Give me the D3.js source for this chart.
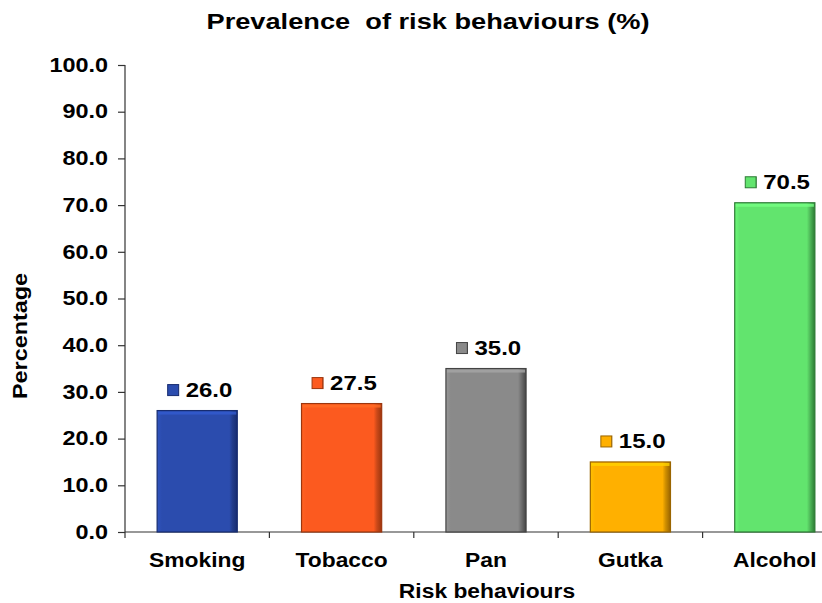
<!DOCTYPE html>
<html>
<head>
<meta charset="utf-8">
<script src="https://cdn.jsdelivr.net/npm/d3@7"></script>
<style>
  html, body { margin: 0; padding: 0; background: #fff; }
  svg { display: block; font-family: Arial, "Liberation Sans", sans-serif; }
  text { font-weight: bold; fill: #000; white-space: pre; }
</style>
</head>
<body>
<svg id="chart" width="822" height="603"></svg>
<script>
// Prevalence of risk behaviours (%)
const categories = ["Smoking", "Tobacco", "Pan", "Gutka", "Alcohol"];
const values = [26.0, 27.5, 35.0, 15.0, 70.5];
const barColors = ["#2b4cae", "#fc5a1f", "#8a8a8a", "#ffb000", "#62e46e"];
const edgeColors = ["#172c70", "#9c360e", "#444444", "#9a6500", "#2c7a34"];
const yTicks = [0, 10, 20, 30, 40, 50, 60, 70, 80, 90, 100];

const svg = d3.select("#chart");
const plotLeft = 125, plotRight = 847, plotTop = 65, plotBottom = 532;

const x = d3.scaleBand().domain(categories).range([plotLeft, plotRight])
  .paddingInner(0.445).paddingOuter(0.2225);
const y = d3.scaleLinear().domain([0, 100]).range([plotBottom, plotTop]);

// widen bold Arial horizontally by factor k
function stretch(sel, k) {
  sel.each(function () {
    const w = this.getComputedTextLength();
    d3.select(this).attr("textLength", w * k).attr("lengthAdjust", "spacingAndGlyphs");
  });
}

// gradients for the bevelled bar faces
const defs = svg.append("defs");
categories.forEach((c, i) => {
  const g = defs.append("linearGradient").attr("id", "face" + i)
    .attr("x1", 0).attr("x2", 1).attr("y1", 0).attr("y2", 0);
  g.append("stop").attr("offset", "0").attr("stop-color", d3.color(barColors[i]).brighter(0.25));
  g.append("stop").attr("offset", "0.06").attr("stop-color", barColors[i]);
  g.append("stop").attr("offset", "0.9").attr("stop-color", barColors[i]);
  g.append("stop").attr("offset", "0.94").attr("stop-color", d3.color(barColors[i]).darker(0.6));
  g.append("stop").attr("offset", "1").attr("stop-color", edgeColors[i]);
});

// Y axis
const yAxis = svg.append("g").attr("transform", `translate(${plotLeft},0)`)
  .call(d3.axisLeft(y).tickValues(yTicks).tickFormat(d3.format(".1f")).tickSize(7).tickPadding(10));
yAxis.select(".domain").attr("stroke", "#333").attr("stroke-width", 1.2).attr("d", `M0,${plotTop}V${plotBottom + 6}`);
yAxis.selectAll(".tick line").attr("stroke", "#333").attr("stroke-width", 1.2);
yAxis.selectAll(".tick text").attr("font-size", 19.5).attr("font-weight", "bold").attr("fill", "#000")
  .attr("font-family", "Arial, 'Liberation Sans', sans-serif").call(stretch, 1.2);

// X axis with ticks between the categories
const xAxisG = svg.append("g").attr("transform", `translate(0,${plotBottom})`);
xAxisG.append("line").attr("x1", plotLeft).attr("x2", 822).attr("y1", 0).attr("y2", 0)
  .attr("stroke", "#333").attr("stroke-width", 1.2);
const bounds = categories.map(c => x(c) - x.step() * x.paddingInner() / 2).slice(1);
xAxisG.selectAll("line.sep").data(bounds).join("line").attr("class", "sep")
  .attr("x1", d => d).attr("x2", d => d).attr("y1", 0).attr("y2", 6)
  .attr("stroke", "#333").attr("stroke-width", 1.2);
xAxisG.selectAll("text.cat").data(categories).join("text").attr("class", "cat")
  .attr("x", d => x(d) + x.bandwidth() / 2).attr("y", 35)
  .attr("text-anchor", "middle").attr("font-size", 19.5).text(d => d).call(stretch, 1.17);

// Bars
const bars = svg.append("g").selectAll("g.bar").data(categories).join("g").attr("class", "bar");
bars.append("rect")
  .attr("x", d => x(d)).attr("y", (d, i) => y(values[i]))
  .attr("width", x.bandwidth()).attr("height", (d, i) => y(0) - y(values[i]))
  .attr("fill", (d, i) => `url(#face${i})`)
  .attr("stroke", (d, i) => edgeColors[i]).attr("stroke-width", 1.2);
bars.append("rect")
  .attr("x", d => x(d) + 1).attr("y", (d, i) => y(values[i]) + 1)
  .attr("width", x.bandwidth() - 2).attr("height", 3)
  .attr("fill", (d, i) => d3.color(barColors[i]).brighter(0.5)).attr("opacity", 0.8);

// Value labels with a small colour key
const labels = svg.append("g").selectAll("g.lbl").data(categories).join("g").attr("class", "lbl");
labels.each(function (d, i) {
  const g = d3.select(this);
  const k = 1.2;
  const t = g.append("text").attr("font-size", 20).text(d3.format(".1f")(values[i]));
  stretch(t, k);
  const tw = t.node().getComputedTextLength() * k;
  const keyW = 11, gap = 7;
  const total = keyW + gap + tw;
  const cx = x(d) + x.bandwidth() / 2 + 7.5;
  const x0 = cx - total / 2;
  const base = y(values[i]) - 14;
  t.attr("x", x0 + keyW + gap).attr("y", base);
  g.insert("rect", "text").attr("x", x0).attr("y", base - 12).attr("width", keyW).attr("height", keyW)
    .attr("fill", `url(#face${i})`).attr("stroke", edgeColors[i]).attr("stroke-width", 1);
});

// Titles
svg.append("text").attr("x", 428).attr("y", 28.5).attr("text-anchor", "middle")
  .attr("font-size", 22.3).text("Prevalence  of risk behaviours (%)").call(stretch, 1.22);
svg.append("text").attr("x", 487).attr("y", 598).attr("text-anchor", "middle")
  .attr("font-size", 19.5).text("Risk behaviours").call(stretch, 1.17);
svg.append("text").attr("transform", "translate(27,336) rotate(-90)").attr("text-anchor", "middle")
  .attr("font-size", 19.5).text("Percentage").call(stretch, 1.2);
</script>
</body>
</html>
